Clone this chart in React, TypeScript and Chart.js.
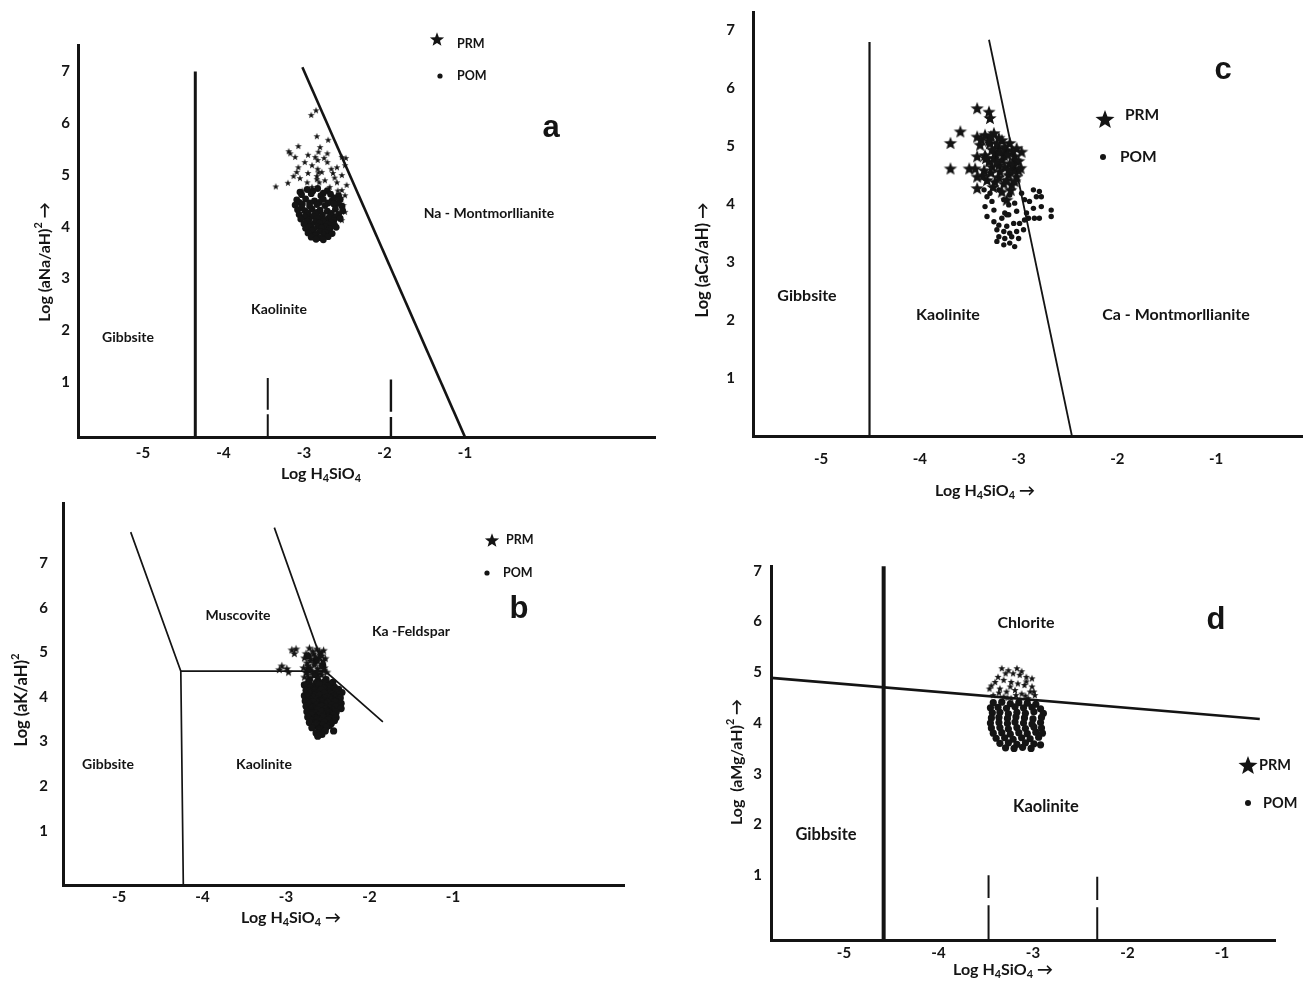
import React, { useEffect, useRef } from 'react';
import { Chart, registerables } from 'chart.js';
Chart.register(...registerables);

type P = [number, number | null];
type Seg = { t: string; sub?: boolean; sup?: boolean };

const FONT = 'Lato, "Open Sans", "DejaVu Sans", sans-serif';
const LETTER_FONT = '"Liberation Sans", Arial, sans-serif';
const INK = '#141414';

const X_TICKS = [-5, -4, -3, -2, -1];
const Y_TICKS = [1, 2, 3, 4, 5, 6, 7];

// ---------------- Panel a (Na) ----------------
const aGibbsiteKaolinite: P[] = [[-4.35, -0.06], [-4.35, 7.0]];
const aKaoliniteNaMont: P[] = [[-3.02, 7.08], [-1.0, -0.06]];
const aDash1: P[] = [[-3.45, 1.08], [-3.45, 0.47], [-3.45, null], [-3.45, 0.38], [-3.45, -0.06]];
const aDash2: P[] = [[-1.92, 1.05], [-1.92, 0.43], [-1.92, null], [-1.92, 0.33], [-1.92, -0.06]];
const aPRM: P[] = [
  [-2.85, 6.25], [-2.91, 6.16], [-2.84, 5.75], [-2.7, 5.68], [-3.07, 5.56], [-2.8, 5.54], [-3.19, 5.46],
  [-3.17, 5.42], [-3.11, 5.35], [-2.95, 5.39], [-2.71, 5.42], [-2.83, 5.29], [-2.53, 5.35], [-2.48, 5.33],
  [-2.99, 5.25], [-2.71, 5.25], [-3.07, 5.15], [-2.9, 5.19], [-2.59, 5.15], [-2.49, 5.19], [-3.09, 5.06],
  [-2.95, 5.04], [-2.78, 5.06], [-2.64, 5.04], [-2.53, 5.0], [-3.35, 4.78], [-3.2, 4.85], [-3.05, 4.94],
  [-2.96, 4.86], [-2.74, 4.9], [-2.59, 4.86], [-2.47, 4.81], [-2.9, 4.77], [-2.68, 4.77], [-2.53, 4.71],
  [-2.49, 4.61], [-2.64, 4.58], [-2.55, 4.48], [-2.49, 4.29], [-2.53, 4.13], [-2.82, 5.45], [-2.83, 5.12],
  [-2.84, 4.98], [-2.81, 4.86], [-2.86, 5.35], [-3.02, 4.7], [-2.76, 4.66], [-2.62, 4.95], [-2.58, 4.7],
  [-2.51, 4.42], [-2.82, 5.05], [-2.84, 4.92], [-3.13, 4.98], [-2.66, 5.12], [-2.75, 5.33],
];
const aPOM: P[] = [
  [-2.96, 4.72], [-2.83, 4.74], [-2.71, 4.7], [-3.05, 4.67], [-2.89, 4.69], [-2.76, 4.65],
  [-3.03, 4.62], [-2.91, 4.64], [-2.79, 4.6], [-2.67, 4.63], [-2.57, 4.6], [-2.62, 4.56],
  [-3.09, 4.52], [-2.98, 4.54], [-2.87, 4.5], [-2.76, 4.53], [-2.65, 4.51], [-2.55, 4.53],
  [-3.06, 4.47], [-2.93, 4.46], [-2.81, 4.47], [-2.7, 4.46], [-2.59, 4.45],
  [-3.11, 4.42], [-3.02, 4.44], [-2.93, 4.4], [-2.84, 4.43], [-2.74, 4.41], [-2.63, 4.44], [-2.53, 4.4],
  [-3.03, 4.37], [-3.08, 4.33], [-2.99, 4.31], [-2.9, 4.34], [-2.8, 4.32], [-2.71, 4.3], [-2.61, 4.34],
  [-2.52, 4.31], [-2.95, 4.27], [-2.84, 4.28], [-2.66, 4.26],
  [-3.06, 4.24], [-2.96, 4.22], [-2.86, 4.25], [-2.77, 4.23], [-2.67, 4.21], [-2.57, 4.24],
  [-2.99, 4.19], [-2.89, 4.2], [-2.79, 4.18], [-2.69, 4.17], [-2.6, 4.19],
  [-3.04, 4.15], [-2.94, 4.13], [-2.84, 4.16], [-2.74, 4.14], [-2.63, 4.12], [-2.55, 4.16],
  [-2.96, 4.1], [-2.86, 4.09], [-2.76, 4.1], [-2.66, 4.08],
  [-3.0, 4.06], [-2.91, 4.04], [-2.81, 4.07], [-2.71, 4.05], [-2.62, 4.03],
  [-2.93, 4.0], [-2.83, 4.01], [-2.73, 4.0],
  [-2.98, 3.97], [-2.88, 3.95], [-2.78, 3.98], [-2.68, 3.96], [-2.6, 3.99],
  [-2.9, 3.92], [-2.8, 3.91], [-2.7, 3.92],
  [-2.95, 3.88], [-2.85, 3.86], [-2.74, 3.89], [-2.65, 3.87],
  [-2.86, 3.83], [-2.75, 3.84], [-2.91, 3.8], [-2.8, 3.79], [-2.7, 3.81], [-2.85, 3.76], [-2.76, 3.75],
];

// ---------------- Panel c (Ca) ----------------
const cGibbsiteKaolinite: P[] = [[-4.51, 0], [-4.51, 6.8]];
const cKaoliniteCaMont: P[] = [[-3.3, 6.84], [-2.46, 0]];
const cPRM: P[] = [
  [-3.42, 5.66], [-3.3, 5.6], [-3.29, 5.49], [-3.59, 5.26], [-3.69, 5.06], [-3.69, 4.62], [-3.5, 4.62],
  [-3.42, 5.17], [-3.34, 5.2], [-3.25, 5.23], [-3.17, 5.11], [-3.09, 5.06], [-3.02, 4.97], [-2.97, 4.91],
  [-3.39, 5.03], [-3.29, 5.06], [-3.2, 4.97], [-3.12, 4.94], [-3.04, 4.83], [-3.42, 4.83], [-3.34, 4.85],
  [-3.25, 4.8], [-3.17, 4.77], [-3.09, 4.71], [-3.0, 4.59], [-3.44, 4.62], [-3.35, 4.59], [-3.27, 4.65],
  [-3.19, 4.57], [-3.1, 4.51], [-3.02, 4.48], [-3.42, 4.48], [-3.32, 4.42], [-3.24, 4.39], [-3.15, 4.36],
  [-3.07, 4.34], [-3.42, 4.28], [-3.12, 4.08], [-3.2, 4.68], [-3.15, 4.85], [-3.24, 4.88], [-3.05, 4.59],
  [-3.3, 4.74], [-3.3, 5.1], [-3.22, 5.05], [-3.14, 5.0], [-3.06, 4.92], [-3.27, 4.95], [-3.19, 4.9],
  [-3.11, 4.86], [-3.03, 4.76], [-3.33, 4.8], [-3.22, 4.73], [-3.14, 4.65], [-3.06, 4.68], [-3.28, 4.55],
  [-3.2, 4.47], [-3.12, 4.42], [-3.04, 4.4], [-3.36, 4.5], [-3.26, 4.3], [-3.08, 4.25], [-3.17, 4.22],
  [-3.38, 5.12], [-3.28, 5.18], [-3.2, 5.15], [-3.0, 4.75], [-2.98, 4.63], [-3.1, 4.6],
];
const cPOM: P[] = [
  [-3.32, 4.13], [-3.27, 4.05], [-3.34, 3.96], [-3.25, 3.9], [-3.15, 4.08], [-3.1, 3.99], [-3.04, 4.02],
  [-2.94, 4.08], [-2.85, 4.25], [-2.79, 4.22], [-2.82, 4.13], [-2.77, 4.13], [-2.89, 4.05], [-2.85, 3.93],
  [-2.77, 3.96], [-2.67, 3.9], [-2.67, 3.79], [-2.92, 3.85], [-3.02, 3.88], [-3.1, 3.82], [-3.17, 3.76],
  [-3.14, 3.85], [-3.32, 3.79], [-3.25, 3.7], [-3.2, 3.64], [-3.12, 3.62], [-3.05, 3.67], [-2.99, 3.67],
  [-2.94, 3.73], [-2.9, 3.76], [-2.84, 3.76], [-2.79, 3.76], [-3.22, 3.56], [-3.15, 3.53], [-3.09, 3.5],
  [-3.02, 3.53], [-2.95, 3.56], [-3.2, 3.44], [-3.14, 3.41], [-3.07, 3.44], [-3.0, 3.41], [-3.22, 3.36],
  [-3.15, 3.3], [-3.09, 3.33], [-3.04, 3.27], [-3.12, 3.82], [-3.35, 4.25], [-3.29, 4.19], [-3.2, 4.25],
  [-3.09, 4.16], [-2.97, 4.19],
];

// ---------------- Panel b (K) ----------------
const bGibbsiteBoundary: P[] = [[-4.86, 7.7], [-4.26, 4.58], [-4.23, -0.22]];
const bMuscoviteKaolinite: P[] = [[-4.26, 4.58], [-2.53, 4.58]];
const bFeldsparBoundary: P[] = [[-3.14, 7.8], [-2.53, 4.58], [-1.84, 3.44]];
const bPRM: P[] = [
  [-2.93, 5.06], [-2.88, 5.08], [-2.9, 4.98], [-3.05, 4.7], [-3.08, 4.62], [-2.99, 4.64], [-2.97, 4.56],
  [-2.72, 5.1], [-2.63, 5.08], [-2.55, 5.05], [-2.76, 4.98], [-2.67, 4.97], [-2.58, 4.99], [-2.78, 4.88],
  [-2.7, 4.86], [-2.61, 4.89], [-2.53, 4.87], [-2.75, 4.77], [-2.66, 4.78], [-2.57, 4.75], [-2.79, 4.66],
  [-2.71, 4.67], [-2.62, 4.64], [-2.54, 4.66], [-2.76, 4.55], [-2.68, 4.57], [-2.59, 4.54], [-2.51, 4.56],
  [-2.78, 4.45], [-2.7, 4.44], [-2.61, 4.46], [-2.53, 4.43], [-2.77, 4.3], [-2.66, 4.2], [-2.48, 4.25],
  [-2.74, 4.05], [-2.57, 3.95], [-2.41, 4.05], [-2.7, 3.8], [-2.5, 3.7], [-2.64, 3.55], [-2.45, 3.45],
  [-2.6, 3.3], [-2.68, 5.03], [-2.6, 5.02], [-2.73, 4.93], [-2.65, 4.92], [-2.57, 4.93], [-2.71, 4.82],
  [-2.62, 4.81], [-2.55, 4.82], [-2.74, 4.71], [-2.66, 4.72], [-2.58, 4.7], [-2.72, 4.6], [-2.63, 4.59],
  [-2.55, 4.6], [-2.74, 4.5], [-2.66, 4.5], [-2.57, 4.5],
];
const bPOM: P[] = [
  [-2.74, 4.92], [-2.64, 4.82], [-2.56, 4.7], [-2.73, 4.6], [-2.65, 4.5],
  [-2.72, 4.38], [-2.62, 4.36], [-2.52, 4.39], [-2.44, 4.33],
  [-2.73, 4.32], [-2.64, 4.31], [-2.55, 4.33], [-2.47, 4.29],
  [-2.78, 4.27], [-2.69, 4.25], [-2.6, 4.28], [-2.51, 4.24], [-2.42, 4.22],
  [-2.72, 4.2], [-2.63, 4.19], [-2.54, 4.2], [-2.45, 4.18], [-2.37, 4.17],
  [-2.76, 4.15], [-2.67, 4.13], [-2.58, 4.16], [-2.49, 4.12], [-2.4, 4.14], [-2.33, 4.1],
  [-2.72, 4.08], [-2.63, 4.07], [-2.54, 4.09], [-2.45, 4.06], [-2.37, 4.05],
  [-2.78, 4.03], [-2.69, 4.01], [-2.6, 4.04], [-2.51, 4.0], [-2.43, 4.02], [-2.35, 3.98],
  [-2.72, 3.96], [-2.63, 3.95], [-2.54, 3.97], [-2.45, 3.94], [-2.37, 3.93],
  [-2.77, 3.91], [-2.68, 3.89], [-2.59, 3.92], [-2.5, 3.88], [-2.41, 3.9], [-2.34, 3.86],
  [-2.72, 3.84], [-2.63, 3.83], [-2.54, 3.85], [-2.45, 3.82], [-2.37, 3.81],
  [-2.76, 3.79], [-2.67, 3.77], [-2.58, 3.8], [-2.49, 3.76], [-2.4, 3.78], [-2.34, 3.74],
  [-2.71, 3.72], [-2.62, 3.71], [-2.53, 3.73], [-2.44, 3.7],
  [-2.75, 3.67], [-2.66, 3.65], [-2.57, 3.68], [-2.48, 3.64], [-2.4, 3.66],
  [-2.7, 3.6], [-2.61, 3.59], [-2.52, 3.61], [-2.43, 3.59],
  [-2.74, 3.55], [-2.65, 3.53], [-2.56, 3.56], [-2.47, 3.52], [-2.4, 3.54],
  [-2.68, 3.48], [-2.59, 3.47], [-2.5, 3.49], [-2.42, 3.47],
  [-2.72, 3.43], [-2.63, 3.41], [-2.54, 3.44], [-2.46, 3.4],
  [-2.65, 3.36], [-2.56, 3.37], [-2.48, 3.36],
  [-2.69, 3.31], [-2.6, 3.29], [-2.52, 3.32], [-2.43, 3.24],
  [-2.61, 3.25], [-2.53, 3.24], [-2.64, 3.19], [-2.57, 3.16], [-2.62, 3.12],
];

// ---------------- Panel d (Mg) ----------------
const dGibbsiteKaolinite: P[] = [[-4.58, -0.28], [-4.58, 7.09]];
const dChloriteKaolinite: P[] = [[-5.77, 4.89], [-0.6, 4.08]];
const dDash1: P[] = [[-3.47, 1.0], [-3.47, 0.55], [-3.47, null], [-3.47, 0.41], [-3.47, -0.28]];
const dDash2: P[] = [[-2.32, 0.97], [-2.32, 0.51], [-2.32, null], [-2.32, 0.37], [-2.32, -0.28]];
const dPRM: P[] = [
  [-3.33, 5.08], [-3.26, 5.04], [-3.21, 4.98], [-3.14, 4.95], [-3.07, 4.91], [-3.01, 4.88], [-3.4, 4.81],
  [-3.31, 4.85], [-3.23, 4.81], [-3.16, 4.78], [-3.09, 4.75], [-3.01, 4.72], [-3.46, 4.68], [-3.35, 4.68],
  [-3.28, 4.62], [-3.19, 4.65], [-3.12, 4.58], [-3.03, 4.62], [-3.42, 4.55], [-3.31, 4.52], [-3.23, 4.49],
  [-3.14, 4.45], [-3.05, 4.49], [-2.98, 4.55], [-3.37, 4.91], [-3.17, 5.08], [-3.29, 4.98], [-3.12, 5.02],
  [-3.44, 4.74], [-3.24, 4.72], [-3.07, 4.82], [-2.99, 4.62], [-3.36, 4.6], [-3.18, 4.55], [-3.27, 4.5],
  [-3.08, 4.54],
];
const dPOM: P[] = [
  [-3.42, 4.4], [-3.33, 4.41], [-3.24, 4.38], [-3.15, 4.4], [-3.06, 4.39], [-2.97, 4.37],
  [-3.45, 4.3], [-3.37, 4.31], [-3.28, 4.29], [-3.19, 4.32], [-3.1, 4.3], [-3.01, 4.31], [-2.92, 4.28],
  [-3.43, 4.2], [-3.35, 4.21], [-3.26, 4.18], [-3.17, 4.21], [-3.08, 4.19], [-2.99, 4.22], [-2.89, 4.19],
  [-3.44, 4.1], [-3.36, 4.11], [-3.27, 4.09], [-3.18, 4.12], [-3.09, 4.1], [-3.0, 4.08], [-2.91, 4.11],
  [-3.45, 4.0], [-3.36, 4.01], [-3.27, 3.99], [-3.19, 4.02], [-3.1, 4.0], [-3.01, 3.98], [-2.92, 4.01],
  [-3.44, 3.9], [-3.35, 3.91], [-3.26, 3.88], [-3.17, 3.91], [-3.08, 3.89], [-2.99, 3.92], [-2.91, 3.9],
  [-3.42, 3.8], [-3.33, 3.81], [-3.24, 3.78], [-3.15, 3.81], [-3.06, 3.79], [-2.97, 3.82], [-2.9, 3.8],
  [-3.39, 3.7], [-3.3, 3.71], [-3.21, 3.68], [-3.12, 3.71], [-3.03, 3.69], [-2.94, 3.72],
  [-3.35, 3.6], [-3.26, 3.61], [-3.17, 3.58], [-3.08, 3.61], [-2.99, 3.59], [-2.92, 3.57],
  [-3.29, 3.51], [-3.2, 3.5], [-3.11, 3.52], [-3.02, 3.5],
];

// ---------------- Titles ----------------
const xTitleA: Seg[] = [{ t: 'Log H' }, { t: '4', sub: true }, { t: 'SiO' }, { t: '4', sub: true }];
const xTitleArrow: Seg[] = [{ t: 'Log H' }, { t: '4', sub: true }, { t: 'SiO' }, { t: '4', sub: true }, { t: ' →' }];
const yTitleA: Seg[] = [{ t: 'Log (aNa/aH)' }, { t: '2', sup: true }, { t: ' →' }];
const yTitleC: Seg[] = [{ t: 'Log (aCa/aH) →' }];
const yTitleB: Seg[] = [{ t: 'Log (aK/aH)' }, { t: '2', sup: true }];
const yTitleD: Seg[] = [{ t: 'Log  (aMg/aH)' }, { t: '2', sup: true }, { t: ' →' }];

type Label = { t: string; x: number; y: number; s: number };
type Panel = {
  box: { left: number; top: number; width: number; height: number };
  area: { l: number; t: number; r: number; b: number };
  xr: [number, number];
  yr: [number, number];
  xPad: number;
  yPad: number;
  tickSize: number;
  lines: { d: P[]; w: number }[];
  prm: P[];
  pom: P[];
  starR: number;
  dotR: number;
  labels: Label[];
  letter: Label;
  xTitle: { segs: Seg[]; x: number; y: number; s: number };
  yTitle: { segs: Seg[]; x: number; y: number; s: number };
  legend: { sx: number; sy: number; sR: number; px: number; py: number; dx: number; dy: number; dr: number; ox: number; oy: number; s: number };
};

const PANELS: Panel[] = [
  {
    box: { left: 0, top: 0, width: 660, height: 490 },
    area: { l: 78, t: 45, r: 655, b: 437 },
    xr: [-5.807, 1.36], yr: [-0.058, 7.51], xPad: 7, yPad: 8, tickSize: 15,
    lines: [{ d: aGibbsiteKaolinite, w: 3 }, { d: aKaoliniteNaMont, w: 2.6 }, { d: aDash1, w: 2 }, { d: aDash2, w: 2.4 }],
    prm: aPRM, pom: aPOM, starR: 3.6, dotR: 3.4,
    labels: [
      { t: 'Na - Montmorllianite', x: 489, y: 213, s: 14 },
      { t: 'Kaolinite', x: 279, y: 309, s: 14 },
      { t: 'Gibbsite', x: 128, y: 337, s: 14 },
    ],
    letter: { t: 'a', x: 551, y: 128, s: 31 },
    xTitle: { segs: xTitleA, x: 321, y: 474, s: 16 },
    yTitle: { segs: yTitleA, x: 45, y: 262, s: 16 },
    legend: { sx: 437, sy: 39, sR: 7.5, px: 457, py: 44, dx: 440, dy: 76, dr: 2.6, ox: 457, oy: 76, s: 12.5 },
  },
  {
    box: { left: 660, top: 0, width: 649, height: 500 },
    area: { l: 753, t: 12, r: 1309, b: 436 },
    xr: [-5.69, -0.13], yr: [0, 7.32], xPad: 14, yPad: 18, tickSize: 15,
    lines: [{ d: cGibbsiteKaolinite, w: 2.2 }, { d: cKaoliniteCaMont, w: 1.8 }],
    prm: cPRM, pom: cPOM, starR: 7, dotR: 2.7,
    labels: [
      { t: 'Gibbsite', x: 807, y: 296, s: 16 },
      { t: 'Kaolinite', x: 948, y: 315, s: 16 },
      { t: 'Ca - Montmorllianite', x: 1176, y: 315, s: 16 },
    ],
    letter: { t: 'c', x: 1223, y: 70, s: 31 },
    xTitle: { segs: xTitleArrow, x: 985, y: 491, s: 16 },
    yTitle: { segs: yTitleC, x: 703, y: 260, s: 16.5 },
    legend: { sx: 1105, sy: 119, sR: 10, px: 1125, py: 115, dx: 1103, dy: 157, dr: 3, ox: 1120, oy: 157, s: 15.5 },
  },
  {
    box: { left: 0, top: 490, width: 660, height: 491 },
    area: { l: 63, t: 503, r: 624, b: 885 },
    xr: [-5.671, 1.048], yr: [-0.218, 8.353], xPad: 3, yPad: 15, tickSize: 15,
    lines: [{ d: bGibbsiteBoundary, w: 1.7 }, { d: bMuscoviteKaolinite, w: 1.9 }, { d: bFeldsparBoundary, w: 1.7 }],
    prm: bPRM, pom: bPOM, starR: 4.5, dotR: 3.6,
    labels: [
      { t: 'Muscovite', x: 238, y: 615, s: 14 },
      { t: 'Ka -Feldspar', x: 411, y: 631, s: 14 },
      { t: 'Gibbsite', x: 108, y: 764, s: 14 },
      { t: 'Kaolinite', x: 264, y: 764, s: 14 },
    ],
    letter: { t: 'b', x: 519, y: 609, s: 31 },
    xTitle: { segs: xTitleArrow, x: 291, y: 918, s: 16 },
    yTitle: { segs: yTitleB, x: 22, y: 700, s: 16.5 },
    legend: { sx: 492, sy: 540, sR: 7.5, px: 506, py: 540, dx: 487, dy: 573, dr: 2.6, ox: 503, oy: 573, s: 12.5 },
  },
  {
    box: { left: 660, top: 500, width: 649, height: 481 },
    area: { l: 771, t: 566, r: 1275, b: 940 },
    xr: [-5.772, -0.439], yr: [-0.276, 7.094], xPad: 4, yPad: 9, tickSize: 15,
    lines: [{ d: dGibbsiteKaolinite, w: 4 }, { d: dChloriteKaolinite, w: 2.6 }, { d: dDash1, w: 2 }, { d: dDash2, w: 2 }],
    prm: dPRM, pom: dPOM, starR: 3.8, dotR: 3.6,
    labels: [
      { t: 'Chlorite', x: 1026, y: 623, s: 16 },
      { t: 'Kaolinite', x: 1046, y: 807, s: 16.5 },
      { t: 'Gibbsite', x: 826, y: 835, s: 16.5 },
    ],
    letter: { t: 'd', x: 1216, y: 620, s: 31 },
    xTitle: { segs: xTitleArrow, x: 1003, y: 970, s: 16 },
    yTitle: { segs: yTitleD, x: 737, y: 762, s: 16 },
    legend: { sx: 1248, sy: 765, sR: 10, px: 1259, py: 765, dx: 1248, dy: 803, dr: 3, ox: 1263, oy: 803, s: 14.5 },
  },
];

function starPath(ctx: CanvasRenderingContext2D, cx: number, cy: number, R: number) {
  const r = R * 0.42;
  ctx.beginPath();
  for (let i = 0; i < 10; i++) {
    const rad = i % 2 === 0 ? R : r;
    const a = -Math.PI / 2 + (i * Math.PI) / 5;
    const px = cx + rad * Math.cos(a);
    const py = cy + rad * Math.sin(a);
    if (i === 0) ctx.moveTo(px, py);
    else ctx.lineTo(px, py);
  }
  ctx.closePath();
}

function makeStar(R: number): HTMLCanvasElement {
  const c = document.createElement('canvas');
  const s = Math.ceil(R * 2 + 2);
  c.width = s;
  c.height = s;
  const g = c.getContext('2d')!;
  g.fillStyle = INK;
  starPath(g, s / 2, s / 2 + R * 0.1, R);
  g.fill();
  return c;
}

function drawRich(ctx: CanvasRenderingContext2D, segs: Seg[], cx: number, cy: number, size: number, rot: boolean) {
  ctx.save();
  ctx.translate(cx, cy);
  if (rot) ctx.rotate(-Math.PI / 2);
  const fontOf = (s: Seg) => `bold ${s.sub || s.sup ? size * 0.68 : size}px ${FONT}`;
  const widths = segs.map((s) => {
    ctx.font = fontOf(s);
    return ctx.measureText(s.t).width;
  });
  const total = widths.reduce((a, b) => a + b, 0);
  let x = -total / 2;
  ctx.textBaseline = 'middle';
  ctx.textAlign = 'left';
  ctx.fillStyle = INK;
  segs.forEach((s, i) => {
    ctx.font = fontOf(s);
    const dy = s.sub ? size * 0.28 : s.sup ? -size * 0.4 : 0;
    ctx.fillText(s.t, x, dy);
    x += widths[i];
  });
  ctx.restore();
}

const toXY = (pts: P[]) => pts.map(([x, y]) => ({ x, y }));

function PanelChart({ p }: { p: Panel }) {
  const ref = useRef<HTMLCanvasElement>(null);
  useEffect(() => {
    if (!ref.current) return;
    const { box, area } = p;
    const star = makeStar(p.starR);
    const anno = {
      id: 'anno',
      afterDraw(chart: any) {
        const ctx: CanvasRenderingContext2D = chart.ctx;
        const ox = box.left;
        const oy = box.top;
        ctx.save();
        ctx.fillStyle = INK;
        ctx.textBaseline = 'middle';
        ctx.textAlign = 'center';
        p.labels.forEach((l) => {
          ctx.font = `bold ${l.s}px ${FONT}`;
          ctx.fillText(l.t, l.x - ox, l.y - oy);
        });
        ctx.font = `bold ${p.letter.s}px ${LETTER_FONT}`;
        ctx.fillText(p.letter.t, p.letter.x - ox, p.letter.y - oy);
        drawRich(ctx, p.xTitle.segs, p.xTitle.x - ox, p.xTitle.y - oy, p.xTitle.s, false);
        drawRich(ctx, p.yTitle.segs, p.yTitle.x - ox, p.yTitle.y - oy, p.yTitle.s, true);
        const lg = p.legend;
        ctx.fillStyle = INK;
        starPath(ctx, lg.sx - ox, lg.sy - oy + lg.sR * 0.1, lg.sR);
        ctx.fill();
        ctx.beginPath();
        ctx.arc(lg.dx - ox, lg.dy - oy, lg.dr, 0, Math.PI * 2);
        ctx.fill();
        ctx.textAlign = 'left';
        ctx.font = `bold ${lg.s}px ${FONT}`;
        ctx.fillText('PRM', lg.px - ox, lg.py - oy);
        ctx.fillText('POM', lg.ox - ox, lg.oy - oy);
        ctx.restore();
      },
    };
    const tickFont = { family: FONT, size: p.tickSize, weight: 'bold' as const };
    const chart = new Chart(ref.current, {
      type: 'scatter',
      data: {
        datasets: [
          {
            label: 'PRM',
            data: toXY(p.prm),
            pointStyle: star as any,
            pointRadius: p.starR,
            backgroundColor: INK,
            borderWidth: 0,
            showLine: false,
            order: 0,
          },
          {
            label: 'POM',
            data: toXY(p.pom),
            pointStyle: 'circle',
            pointRadius: p.dotR,
            backgroundColor: INK,
            borderColor: INK,
            borderWidth: 0,
            showLine: false,
            order: 1,
          },
          ...p.lines.map((ln, i) => ({
            label: 'boundary' + i,
            data: toXY(ln.d),
            showLine: true,
            spanGaps: false,
            borderColor: INK,
            borderWidth: ln.w,
            pointRadius: 0,
            pointHoverRadius: 0,
            fill: false,
            order: 2,
          })),
        ] as any,
      },
      options: {
        animation: false,
        responsive: false,
        events: [],
        layout: {
          padding: { left: 0, top: area.t - box.top, right: box.left + box.width - area.r, bottom: 0 },
        },
        plugins: { legend: { display: false }, tooltip: { enabled: false } },
        scales: {
          x: {
            type: 'linear',
            min: p.xr[0],
            max: p.xr[1],
            afterBuildTicks: (s: any) => {
              s.ticks = X_TICKS.map((v) => ({ value: v }));
            },
            afterFit: (s: any) => {
              s.height = box.top + box.height - area.b;
              s.paddingLeft = 0;
              s.paddingRight = 0;
            },
            grid: { display: false, drawTicks: false },
            border: { display: true, color: INK, width: 3 },
            ticks: { color: INK, font: tickFont, padding: p.xPad, maxRotation: 0, autoSkip: false },
          },
          y: {
            type: 'linear',
            min: p.yr[0],
            max: p.yr[1],
            afterBuildTicks: (s: any) => {
              s.ticks = Y_TICKS.map((v) => ({ value: v }));
            },
            afterFit: (s: any) => {
              s.width = area.l - box.left;
              s.paddingTop = 0;
              s.paddingBottom = 0;
            },
            grid: { display: false, drawTicks: false },
            border: { display: true, color: INK, width: 3 },
            ticks: { color: INK, font: tickFont, padding: p.yPad, autoSkip: false },
          },
        },
      } as any,
      plugins: [anno as any],
    });
    return () => chart.destroy();
  }, [p]);
  return (
    <canvas
      ref={ref}
      width={p.box.width}
      height={p.box.height}
      style={{ position: 'absolute', left: p.box.left, top: p.box.top, width: p.box.width, height: p.box.height }}
    />
  );
}

export default function App() {
  return (
    <div style={{ position: 'fixed', left: 0, top: 0, width: 1309, height: 981, background: '#fff', overflow: 'hidden' }}>
      {PANELS.map((p, i) => (
        <PanelChart key={i} p={p} />
      ))}
    </div>
  );
}
